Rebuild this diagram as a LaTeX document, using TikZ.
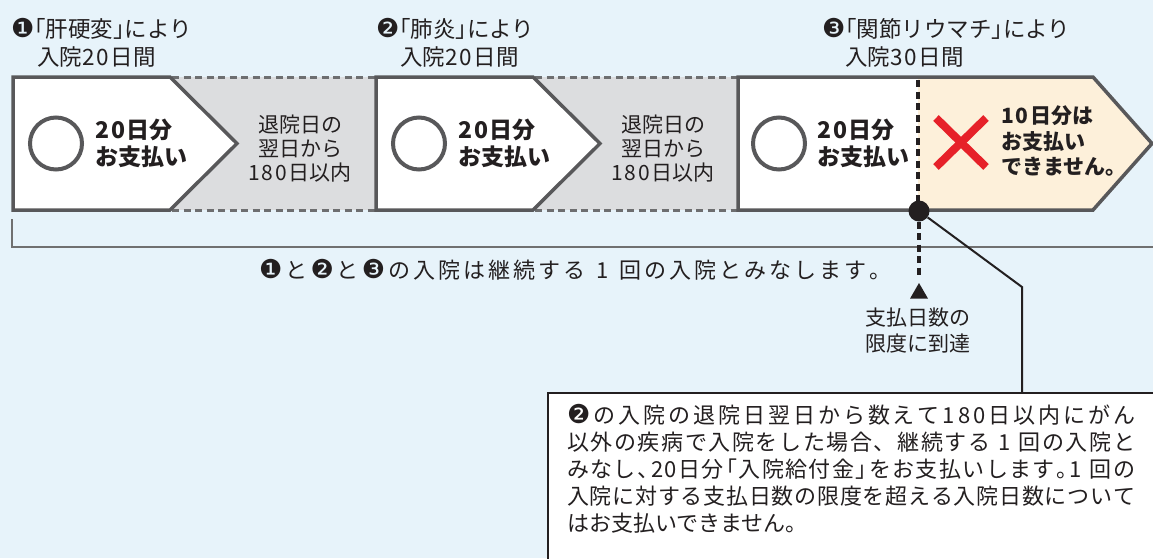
\documentclass[tikz,border=0pt]{standalone}
\usepackage{fontspec}
\setmainfont{Noto Sans CJK JP}
\newfontfamily\dv{DejaVu Sans}
\usetikzlibrary{shapes.geometric}
\definecolor{bg}{HTML}{E7F3FA}
\definecolor{bord}{HTML}{58585A}
\definecolor{grayfill}{HTML}{DCDDDF}
\definecolor{dashc}{HTML}{6D6E70}
\definecolor{beige}{HTML}{FDF0DA}
\definecolor{redx}{HTML}{E62129}
\definecolor{txt}{HTML}{231F20}
\definecolor{brk}{HTML}{707070}
\newcommand\lk{\kern-0.5em}
\newcommand\cn[1]{{\dv\fontsize{26}{26}\selectfont #1}}
\newcommand\one{\cn{❶}}
\newcommand\two{\cn{❷}}
\newcommand\three{\cn{❸}}
% digits with a little extra tracking
\newcommand\dgend{DGEND}
\def\dg#1{\dgl#1\dgend}
\def\dgl#1{\ifx\dgend#1\else#1\kern0.08em\expandafter\dgl\fi}
% evenly tracked line of given width
\newcommand\trkend{TRKEND}
\def\trk#1{#1\trkb}
\def\trkb#1{\ifx\trkend#1\else\hfil#1\expandafter\trkb\fi}
\newcommand\tline[2]{\makebox[#1][s]{\trk #2\trkend}}
\begin{document}
\begin{tikzpicture}[x=1pt,y=-1pt,
  lbl/.style={inner sep=0pt, text=txt, font=\fontsize{22.5}{26}\selectfont},
  boldt/.style={inner sep=0pt, text=txt, font=\fontsize{23}{27}\selectfont\bfseries},
  boldr/.style={inner sep=0pt, text=txt, font=\fontsize{21}{26}\selectfont\bfseries},
  gtxt/.style={inner sep=0pt, text=txt, font=\fontsize{21}{24}\selectfont},
  btxt/.style={inner sep=0pt, text=txt, anchor=base west, font=\fontsize{22}{26}\selectfont},
  ring/.style={circle, draw=bord, line width=4pt, minimum size=52pt, inner sep=0pt},
  boxline/.style={draw=bord, line width=3.5pt, line join=miter},
  graydash/.style={draw=dashc, line width=3pt, dash pattern=on 7pt off 4.5pt},
  blackdash/.style={draw=txt, line width=3.5pt, dash pattern=on 7pt off 4.5pt}]
\fill[bg] (0,0) rectangle (1153,558);
\useasboundingbox (0,0) rectangle (1153,558);

% gray regions
\fill[grayfill] (170,77) rectangle (376,210);
\fill[grayfill] (533,77) rectangle (738,210);
\draw[graydash] (172,77) -- (376,77);
\draw[graydash] (172,210) -- (376,210);
\draw[graydash] (535,77) -- (738,77);
\draw[graydash] (535,210) -- (738,210);

% white arrows
\path[fill=white, boxline] (13,77) -- (170,77) -- (237,143.5) -- (170,210) -- (13,210) -- cycle;
\path[fill=white, boxline] (376,77) -- (533,77) -- (600,143.5) -- (533,210) -- (376,210) -- cycle;

% box 3
\fill[white] (738,77) rectangle (918,210);
\fill[beige] (918,77) -- (1093,77) -- (1152,143.5) -- (1093,210) -- (918,210) -- cycle;
\draw[boxline] (738,77) -- (1093,77) -- (1152,143.5) -- (1093,210) -- (738,210) -- cycle;
\draw[blackdash] (918,80) -- (918,208);

% circles
\node[ring] (c1) at (56,143.5) {};
\node[ring] (c2) at (419,143.5) {};
\node[ring] (c3) at (779,143.5) {};

% red cross
\draw[redx, line width=8pt] (936,118) -- (986,167);
\draw[redx, line width=8pt] (936,167) -- (986,118);

% titles
\node[lbl, anchor=base west] (t1a) at (11,37) {\one\lk「肝硬変」\lk により};
\node[lbl, anchor=base west] (t1b) at (37,65) {入院\dg{20}日間};
\node[lbl, anchor=base west] (t2a) at (376,37) {\two\lk「肺炎」\lk により};
\node[lbl, anchor=base west] (t2b) at (400,65) {入院\dg{20}日間};
\node[lbl, anchor=base west] (t3a) at (822,37) {\three\lk「関節リウマチ」\lk により};
\node[lbl, anchor=base west] (t3b) at (845,65) {入院\dg{30}日間};

% bold in boxes
\node[boldt, anchor=base west] (p1a) at (95,138.5) {\dg{20}日分};
\node[boldt, anchor=base west] (p1b) at (95,165.5) {お支払い};
\node[boldt, anchor=base west] (p2a) at (458,138.5) {\dg{20}日分};
\node[boldt, anchor=base west] (p2b) at (458,165.5) {お支払い};
\node[boldt, anchor=base west] (p3a) at (817,138.5) {\dg{20}日分};
\node[boldt, anchor=base west] (p3b) at (817,165.5) {お支払い};

% gray texts
\node[gtxt, anchor=base] (g1a) at (300,132.5) {退院日の};
\node[gtxt, anchor=base] (g1b) at (300,156.5) {翌日から};
\node[gtxt, anchor=base] (g1c) at (300,180.5) {\dg{180}日以内};
\node[gtxt, anchor=base] (g2a) at (663,132.5) {退院日の};
\node[gtxt, anchor=base] (g2b) at (663,156.5) {翌日から};
\node[gtxt, anchor=base] (g2c) at (663,180.5) {\dg{180}日以内};

% not paid
\node[boldr, anchor=base west] (n1) at (1001,123) {\dg{10}日分は};
\node[boldr, anchor=base west] (n2) at (1001,149) {お支払い};
\node[boldr, anchor=base west] (n3) at (1001,174) {できません。};

% bracket
\draw[brk, line width=2.5pt] (12,219) -- (12,247) -- (1154,247);
\node[btxt] (mid) at (259,278.5)
  {\tline{632pt}{\one と\two と\three の入院は継続する~1~回の入院とみなします。}};

% limit marker
\node[circle, fill=txt, minimum size=21pt, inner sep=0pt] (dot) at (919,211) {};
\coordinate (dend) at (919,276);
\draw[blackdash] (dot.south) -- (dend);
\node[regular polygon, regular polygon sides=3, fill=txt, minimum size=20.8pt, inner sep=0pt] (tri) at (919,293.4) {};
\node[gtxt, anchor=base] (lim1) at (918,325) {支払日数の};
\node[gtxt, anchor=base] (lim2) at (918,351) {限度に到達};

% bottom box
\fill[white] (548,393) rectangle (1156,560);
\draw[txt, line width=2.5pt] (548,561) -- (548,393) -- (1156,393);
\coordinate (bend) at (1022,287);
\coordinate (boxtop) at (1022,393);
\draw[txt, line width=2pt] (dot) -- (bend) -- (boxtop);

\node[btxt] (b1) at (567,423.4) {\tline{568pt}{\two の入院の退院日翌日から数えて180日以内にがん}};
\node[btxt] (b2) at (567,450.4) {\tline{568pt}{以外の疾病で入院をした場合、継続する~1~回の入院と}};
\node[btxt] (b3) at (567,477.4) {\tline{568pt}{みなし、\lk 20日分\lk「入院給付金」\lk をお支払いします。\lk 1~回の}};
\node[btxt] (b4) at (567,504.4) {\tline{568pt}{入院に対する支払日数の限度を超える入院日数について}};
\node[btxt] (b5) at (567,531.4) {はお支払いできません。};
\end{tikzpicture}
\end{document}
